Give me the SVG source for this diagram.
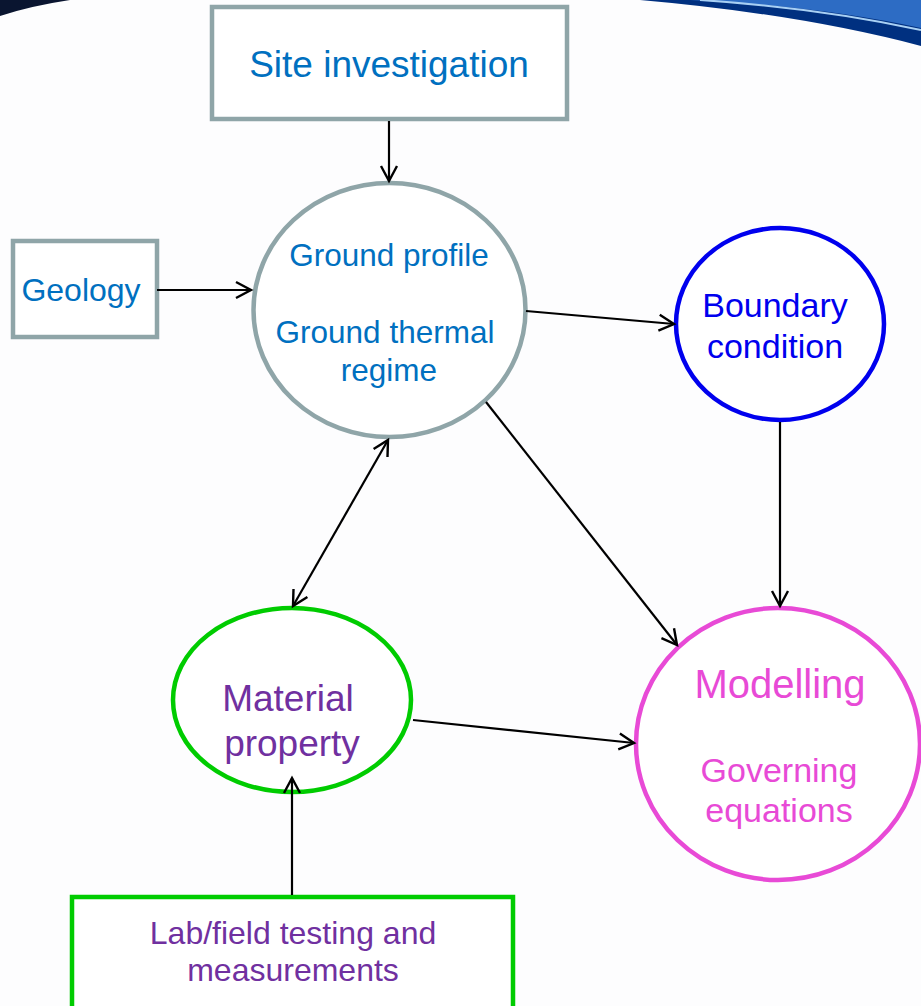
<svg xmlns="http://www.w3.org/2000/svg" width="921" height="1006" viewBox="0 0 921 1006">
<defs>
<marker id="ah" markerUnits="userSpaceOnUse" markerWidth="20" markerHeight="20" viewBox="0 0 20 20" refX="17" refY="10" orient="auto-start-reverse">
<path d="M2,2 L17,10 L2,18" fill="none" stroke="#000" stroke-width="2.4"/>
</marker>
<style>
.t{font-family:"Liberation Sans",Arial,sans-serif;text-anchor:middle}
.grey{fill:#fff;stroke:#8fa5a8;stroke-width:4.5}
.conn line{stroke:#000;stroke-width:2.2;marker-end:url(#ah)}
</style>
</defs>
<rect width="921" height="1006" fill="#fdfdfe"/>
<g id="swoosh">
<path d="M0,0 L70,0 Q30,6 0,16 Z" fill="#0a1530"/>
<path d="M640,0 L921,0 L921,46 Q800,14 640,0 Z" fill="#003080"/>
<path d="M690,0 L921,0 L921,28 Q820,6 690,0 Z" fill="#2d6cc4"/>
<path d="M700,0 Q820,8 921,30" fill="none" stroke="#a8d0f4" stroke-width="2"/>
</g>
<g id="site">
<rect class="grey" x="212" y="7" width="355" height="112"/>
<text class="t" x="389" y="77" font-size="37" fill="#0070c0">Site investigation</text>
</g>
<g id="geology">
<rect class="grey" x="13" y="241" width="144" height="96"/>
<text class="t" x="81" y="301" font-size="32" fill="#0070c0">Geology</text>
</g>
<g id="ground">
<ellipse class="grey" cx="389.5" cy="310" rx="136" ry="127"/>
<text class="t" x="389" y="266" font-size="31.5" fill="#0070c0">Ground profile</text>
<text class="t" x="385" y="343" font-size="31.5" fill="#0070c0">Ground thermal</text>
<text class="t" x="389" y="381" font-size="31.5" fill="#0070c0">regime</text>
</g>
<g id="boundary">
<ellipse cx="780" cy="324" rx="104" ry="96" fill="#fff" stroke="#0000ee" stroke-width="4.5"/>
<text class="t" x="775" y="317" font-size="34" fill="#0000ee">Boundary</text>
<text class="t" x="775" y="358" font-size="34" fill="#0000ee">condition</text>
</g>
<g id="material">
<ellipse cx="292" cy="700" rx="119" ry="92" fill="#fff" stroke="#00cc00" stroke-width="4.5"/>
<text class="t" x="288" y="711" font-size="37" fill="#7030a0">Material</text>
<text class="t" x="292" y="756" font-size="37" fill="#7030a0">property</text>
</g>
<g id="modelling">
<ellipse cx="778" cy="744" rx="142" ry="136" fill="#fff" stroke="#e84ad6" stroke-width="4.5"/>
<text class="t" x="780" y="698" font-size="40" fill="#e84ad6">Modelling</text>
<text class="t" x="779" y="782" font-size="34" fill="#e84ad6">Governing</text>
<text class="t" x="779" y="822" font-size="34" fill="#e84ad6">equations</text>
</g>
<g id="lab">
<rect x="72" y="897" width="441" height="120" fill="#fff" stroke="#00cc00" stroke-width="4.5"/>
<text class="t" x="293" y="944" font-size="32" fill="#7030a0">Lab/field testing and</text>
<text class="t" x="293" y="981" font-size="32" fill="#7030a0">measurements</text>
</g>
<g id="connectors" class="conn">
<line x1="389" y1="121" x2="389" y2="181"/>
<line x1="157" y1="290" x2="251" y2="290"/>
<line x1="526" y1="311" x2="674" y2="324"/>
<line x1="780" y1="422" x2="780" y2="606"/>
<line x1="486" y1="402" x2="677" y2="645"/>
<line x1="293" y1="606" x2="388" y2="440" style="marker-start:url(#ah)"/>
<line x1="413" y1="720" x2="634" y2="743"/>
<line x1="292" y1="895" x2="292" y2="778"/>
</g>
</svg>
